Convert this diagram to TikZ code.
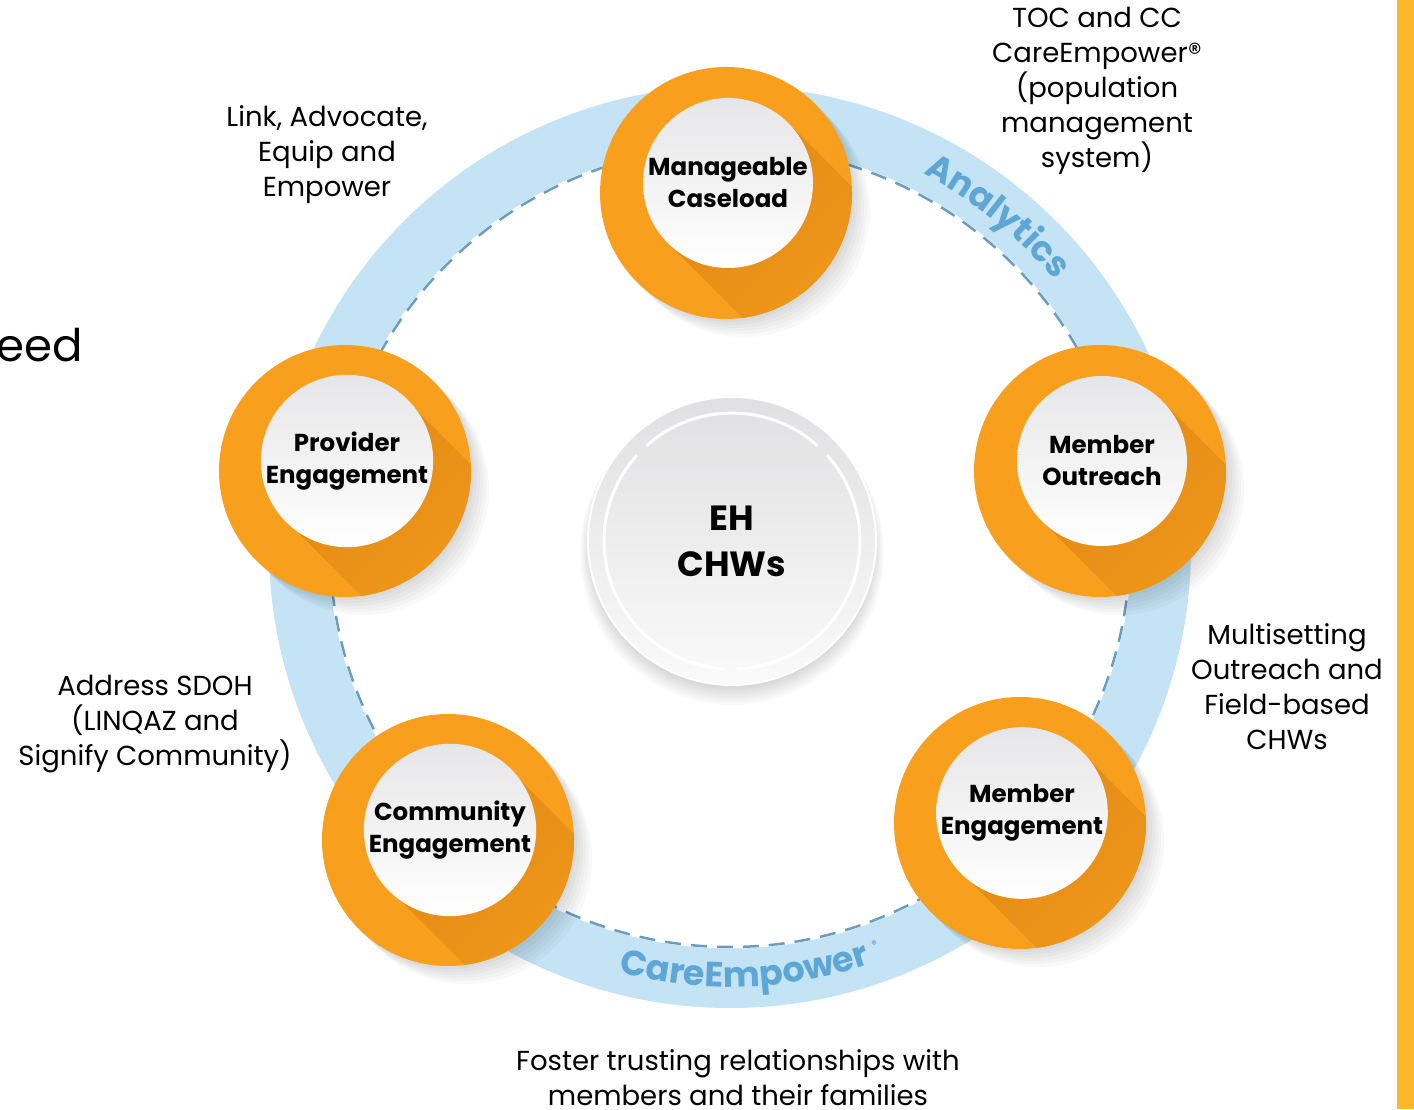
\documentclass[tikz,border=0pt]{standalone}
\usepackage{fontspec}
\setmainfont{Poppins}
\usetikzlibrary{decorations.text,calc}
\definecolor{ringblue}{HTML}{C4E3F4}
\definecolor{dashblue}{HTML}{6B9DBE}
\definecolor{labelblue}{HTML}{5EA6D6}
\definecolor{orangeM}{HTML}{F8A01E}
\definecolor{orangeD}{HTML}{E08814}
\definecolor{barY}{HTML}{FDB72B}
\definecolor{hubtop}{HTML}{E6E6E8}
\definecolor{ehtop}{HTML}{E0E0E2}
\definecolor{ehbot}{HTML}{FAFAFA}
\newcommand\bandfont{\fontsize{35}{35}\selectfont\bfseries}
\newcommand\hub[4]{%
  \foreach \k in {1,...,6} {
    \fill[black,opacity=0.022] ({#2-2+3*\k},{#3-10-3*\k}) circle (126);
  }
  \fill[orangeM] ({#2-2},{#3-10}) circle (126);
  \begin{scope}
    \clip ({#2-2},{#3-10}) circle (126);
    \shade[top color=orangeD, bottom color=orangeM, shading angle=45]
      ({#2+60.1},{#3+60.1}) -- ({#2-60.1},{#3-60.1})
      -- ({#2+89.9},{#3-210.1}) -- ({#2+210.1},{#3-89.9}) -- cycle;
  \end{scope}
  \node[hubnode] (#1) at (#2,#3) {#4};
}
\begin{document}
\begin{tikzpicture}[x=1pt,y=1pt,
  hubnode/.style={circle, minimum size=170pt, inner sep=0pt, shade,
    top color=hubtop, bottom color=white, align=center,
    font=\fontsize{24.5}{32}\selectfont\bfseries},
  outlabel/.style={align=center, inner sep=0pt,
    font=\fontsize{27.5}{35}\selectfont}]
\useasboundingbox (0,0) rectangle (1414,1109);
\fill[white] (0,0) rectangle (1414,1109);
\coordinate (O) at (730,562);
% ring band
\fill[ringblue, even odd rule] (O) circle (461) (O) circle (401);
\draw[white, line width=3pt] (O) circle (400);
\draw[dashblue, line width=2.5pt, dash pattern=on 16pt off 10pt] (O) circle (400);
% band labels
\path[decorate, decoration={text along path, text={|\bandfont|Analytics},
   text align=center, text color=labelblue}]
   (O) ++(91:420) arc[start angle=91, end angle=11, radius=420];
\path[decorate, decoration={text along path, text={|\bandfont|CareEmpower},
   text align=center, text color=labelblue}]
   (O) ++(-128:440) arc[start angle=-128, end angle=-48, radius=440];
\node[text=labelblue, font=\fontsize{10}{10}\selectfont\bfseries, rotate=20, inner sep=0pt]
   (reg) at ($(O)+(-70:423)$) {®};
% centre disc
\foreach \k in {1,...,8} {
  \fill[black, opacity=0.02] (732,{568-4-\k}) circle ({140+1.5*\k});
}
\node[circle, minimum size=288pt, inner sep=0pt, shade, top color=ehtop, bottom color=ehbot,
   draw=white, line width=2pt, align=center,
   font=\fontsize{35}{46}\selectfont\bfseries] (eh) at (732,568) {EH\\CHWs};
\draw[white, line width=3pt] (eh.center) ++(48:128) arc[start angle=48, end angle=132, radius=128];
\draw[white, line width=3pt] (eh.center) ++(138:128) arc[start angle=138, end angle=266, radius=128];
\draw[white, line width=3pt] (eh.center) ++(272:128) arc[start angle=272, end angle=402, radius=128];
% hubs
\hub{mc}{728}{926}{Manageable\\Caseload}
\hub{pe}{347}{648}{Provider\\Engagement}
\hub{mo}{1102}{648}{Member\\Outreach}
\hub{me}{1022}{296}{Member\\Engagement}
\hub{ce}{450}{279}{Community\\Engagement}
% outside labels
\node[outlabel] (tlink) at (327,954.5) {Link, Advocate,\\Equip and\\Empower};
\node[outlabel] (ttoc) at (1097,1018) {TOC and CC\\CareEmpower®\\(population\\management\\system)};
\node[outlabel] (tmulti) at (1287,422) {Multisetting\\Outreach and\\Field-based\\CHWs};
\node[outlabel] (taddr) at (155,385) {Address SDOH\\(LINQAZ and\\Signify Community)};
\node[outlabel] (tfost) at (738,31.5) {Foster trusting relationships with\\members and their families};
\node[anchor=base east, inner sep=0pt, font=\fontsize{45}{45}\selectfont] (teed) at (83,747) {eed};
% side bar
\fill[barY] (1397,0) rectangle (1414,1109);
\end{tikzpicture}
\end{document}
